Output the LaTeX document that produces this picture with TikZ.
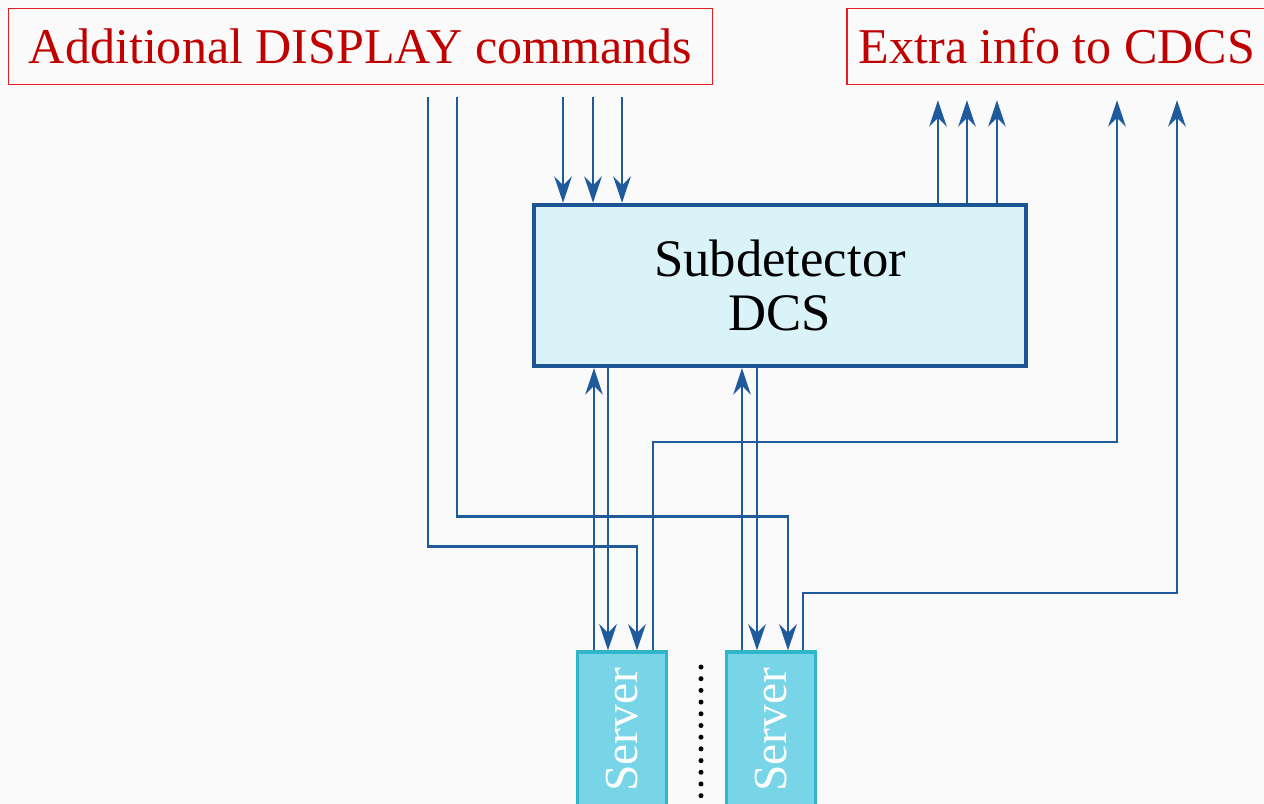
\documentclass[tikz,border=0pt]{standalone}
\usepackage{fontspec}
\setmainfont{Liberation Serif}
\usetikzlibrary{calc,arrows.meta}
\definecolor{textred}{HTML}{C00000}
\definecolor{boxred}{HTML}{E41E1E}
\definecolor{linkblue}{HTML}{1E5A9C}
\definecolor{dcsblue}{HTML}{1C5594}
\definecolor{dcsfill}{HTML}{DAF3F8}
\definecolor{srvfill}{HTML}{77D5E7}
\definecolor{srvline}{HTML}{2FB6CB}
\begin{document}
\begin{tikzpicture}[
        x=0.02cm, y=-0.02cm,
        font=\fontsize{28.5}{31}\selectfont
    ]
    \tikzset{
        labelbox/.style = {rectangle, draw=boxred, line width=0.9pt, text=textred, minimum height=1.52cm, inner sep=0pt},
        dcsbox/.style = {rectangle, draw=dcsblue, line width=2.5pt, fill=dcsfill, align=center, minimum width=9.84cm, minimum height=3.22cm, font=\fontsize{30}{31}\selectfont},
        srvbox/.style = {rectangle, draw=srvline, line width=1.8pt, fill=srvfill, text=white, minimum width=1.78cm, minimum height=3.12cm, inner sep=0pt, font=\fontsize{27}{30}\selectfont},
        link/.style = {linkblue, line width=1.2pt},
        linka/.style = {link, -{Stealth[length=15pt,width=10pt,inset=5pt]}},
        dotline/.style = {black, line width=0.1cm, line cap=round, dash pattern=on 0pt off 0.234cm},
    }
    \useasboundingbox (0,0) rectangle (1264,804);
    \clip (0,0) rectangle (1264,804);
    \fill[black!2] (0,0) rectangle (1264,804);
    %
    \node[labelbox, minimum width=14.08cm] at (360.5,46.5) (disp) {Additional DISPLAY commands};
    \node[labelbox, minimum width=8.4cm] at (1057,46.5) (cdcs) {Extra info to CDCS};
    \node[dcsbox] at (780,285.5) (dcs) {Subdetector\\DCS};
    \node[srvbox] at (622,730) (srva) {\rotatebox{90}{Server}};
    \node[srvbox] at (771,730) (srvb) {\rotatebox{90}{Server}};
    \coordinate (ca) at (1117,442);
    \coordinate (cb) at (1177,593);
    \coordinate (gap) at (701,667);
    %
    \foreach \dx in {-4.34,-3.74,-3.16}
        \draw[linka, shorten <=0.24cm] ([xshift=\dx cm]dcs.north |- disp.south) -- ([xshift=\dx cm]dcs.north);
    \foreach \dx in {3.16,3.74,4.34}
        \draw[linka, shorten >=0.3cm] ([xshift=\dx cm]dcs.north) -- ([xshift=\dx cm]dcs.north |- cdcs.south);
    %
    \draw[linka] ([xshift=1.35cm,yshift=-0.24cm]disp.south) |- ([xshift=0.3cm,yshift=2.08cm]srva.north) -- ([xshift=0.3cm]srva.north);
    \draw[linka] ([xshift=1.93cm,yshift=-0.24cm]disp.south) |- ([xshift=0.34cm,yshift=2.68cm]srvb.north) -- ([xshift=0.34cm]srvb.north);
    %
    \draw[linka] ([xshift=-0.56cm]srva.north) -- ([xshift=-0.56cm]srva.north |- dcs.south);
    \draw[linka] ([xshift=-0.28cm]srva.north |- dcs.south) -- ([xshift=-0.28cm]srva.north);
    \draw[linka] ([xshift=-0.58cm]srvb.north) -- ([xshift=-0.58cm]srvb.north |- dcs.south);
    \draw[linka] ([xshift=-0.28cm]srvb.north |- dcs.south) -- ([xshift=-0.28cm]srvb.north);
    %
    \draw[linka, shorten >=0.3cm] ([xshift=0.62cm]srva.north) |- (ca) -- (ca |- cdcs.south);
    \draw[linka, shorten >=0.3cm] ([xshift=0.64cm]srvb.north) |- (cb) -- (cb |- cdcs.south);
    %
    \draw[dotline] (gap) -- ++(0,136);
\end{tikzpicture}
\end{document}
